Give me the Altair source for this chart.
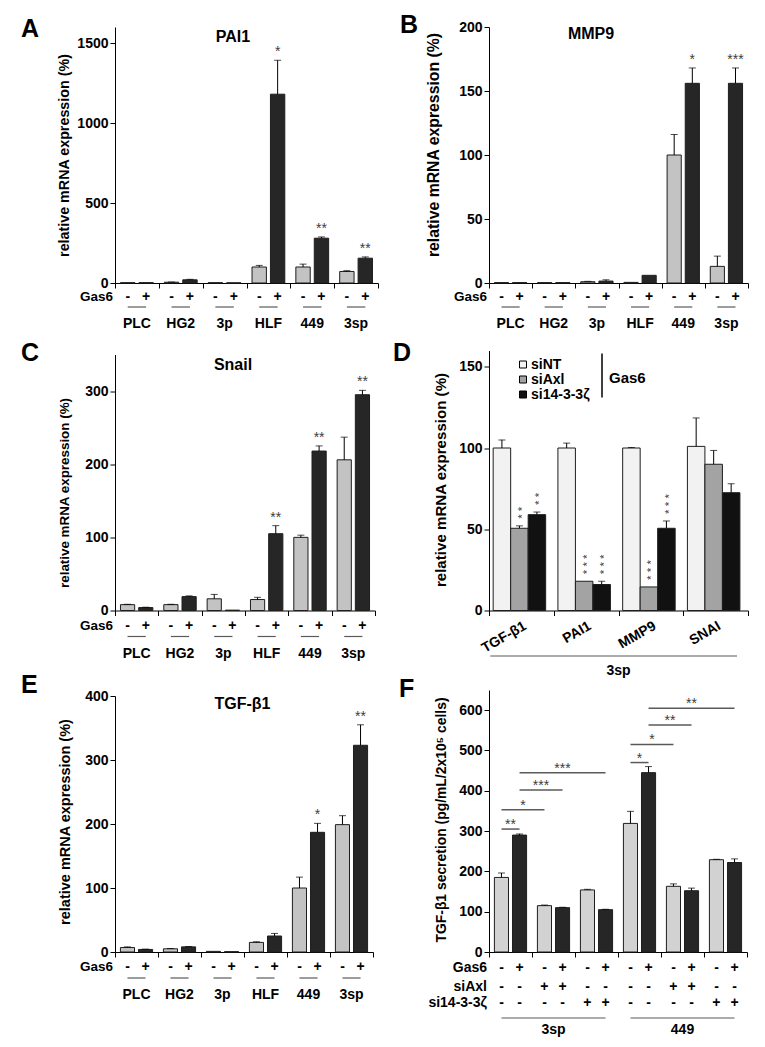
import altair as alt
import pandas as pd

FONT = "Liberation Sans"
LIGHT = "#c3c3c3"
LIGHT_F = "#d2d2d2"
DARK = "#262626"
EDGE = "#1e1e1e"
STAR = "#3c3c3c"
LINE = "#5a5a5a"

# ---------------- data ----------------
cells = ["PLC", "HG2", "3p", "HLF", "449", "3sp"]
gas6 = ["-", "+"]

# A - PAI1
pai1_minus = [2, 5, 2, 100, 100, 72]
pai1_minus_err = [0, 1, 0, 10, 18, 5]
pai1_plus = [2, 20, 1, 1180, 280, 155]
pai1_plus_err = [0, 3, 0, 212, 8, 8]
pai1_stars = ["", "", "", "*", "**", "**"]

# B - MMP9
mmp9_minus = [0.3, 0.3, 1, 0.5, 100, 13]
mmp9_minus_err = [0, 0, 0.3, 0, 16, 8]
mmp9_plus = [0.3, 0.3, 1.5, 6, 156, 156]
mmp9_plus_err = [0, 0, 1, 0, 12, 12]
mmp9_stars = ["", "", "", "", "*", "***"]

# C - Snail
snail_minus = [8, 8, 16, 15, 100, 206]
snail_minus_err = [0.5, 0.5, 6, 3, 3, 31]
snail_plus = [4, 19, 0.5, 105, 218, 295]
snail_plus_err = [0.5, 1, 0, 11, 7, 6]
snail_stars = ["", "", "", "**", "**", "**"]

# E - TGF-b1
tgfb_minus = [7, 5, 1, 15, 100, 199]
tgfb_minus_err = [1, 0.5, 0, 1, 17, 14]
tgfb_plus = [4, 8, 0.5, 25, 187, 323]
tgfb_plus_err = [0.5, 0.5, 0, 4, 14, 32]
tgfb_stars = ["", "", "", "", "*", "**"]

# D - knockdown in 3sp
genes = ["TGF-β1", "PAI1", "MMP9", "SNAI"]
sirnas = ["siNT", "siAxl", "si14-3-3ζ"]
d_sint = [100, 100, 100, 101]
d_sint_err = [5, 3, 0.3, 17.5]
d_siaxl = [50.6, 18, 14.5, 90]
d_siaxl_err = [1.5, 0, 0, 8.5]
d_si14 = [59, 16, 50.6, 72.5]
d_si14_err = [1.6, 2, 4.5, 5.5]
d_siaxl_stars = ["**", "***", "***", ""]
d_si14_stars = ["**", "***", "***", ""]

# F - TGF-b1 secretion
f_groups = ["3sp ctrl", "3sp siAxl", "3sp si14-3-3ζ", "449 ctrl", "449 siAxl", "449 si14-3-3ζ"]
f_minus = [185, 115, 154, 319, 163, 229]
f_minus_err = [11, 1.5, 1.5, 30, 6, 1]
f_plus = [290, 110, 105, 445, 152, 222]
f_plus_err = [3, 1, 1, 15, 6.5, 9]
f_siaxl = ["-", "+", "-", "-", "+", "-"]
f_si14 = ["-", "-", "+", "-", "-", "+"]
f_cell_lines = ["3sp", "449"]
br_start_group = [0, 0, 0, 0, 3, 3, 3, 3]
br_start_cond = ["-", "-", "+", "+", "-", "-", "+", "+"]
br_end_group = [0, 1, 1, 2, 3, 4, 4, 5]
br_end_cond = ["+", "-", "+", "+", "+", "-", "+", "+"]
br_height = [305, 353, 402, 445, 470, 515, 563, 605]
br_stars = ["**", "*", "***", "***", "*", "*", "**", "**"]

# ---------------- geometry of the paired bars ----------------
PI, PO = 0.22, 0.30
_step = 1.0 / (2 - PI + 2 * PO)
BC = {"-": PO * _step + (1 - PI) * _step / 2}
BC["+"] = 1 - BC["-"]


def one(text):
    return pd.DataFrame({"t": [text]})


def label(text, x, y, size, weight="bold", align="center", baseline="middle", color="black"):
    return alt.Chart(one(text)).mark_text(
        font=FONT, fontSize=size, fontWeight=weight, align=align,
        baseline=baseline, color=color
    ).encode(x=alt.value(x), y=alt.value(y), text="t:N")


def y_axis(values, title, tx, ty, tsize):
    return alt.Axis(
        values=values, format="d", title=title, titleX=tx, titleY=ty, titleFontSize=tsize,
        titleFont=FONT, titleFontWeight="bold", titleColor="black", titleAngle=270,
        titleAlign="center", titleBaseline="middle", labelFont=FONT, labelFontSize=14,
        labelFontWeight="bold", labelColor="black", labelPadding=2, tickSize=5,
        tickColor="black", domainColor="black", grid=False,
    )


def x_axis(**kw):
    d = dict(title=None, labels=False, tickBand="extent", tickSize=5,
             tickColor="black", domainColor="black", grid=False)
    d.update(kw)
    return alt.Axis(**d)


def gas6_panel(minus, minus_err, plus, plus_err, stars, title, letter, ydom, yticks,
               yrange, w, xr, h, tpos, lpos, ytitle, offs):
    rows = []
    for i, c in enumerate(cells):
        rows.append({"cell": c, "gas6": "-", "value": minus[i], "err": minus_err[i], "star": ""})
        rows.append({"cell": c, "gas6": "+", "value": plus[i], "err": plus_err[i], "star": stars[i]})
    df = pd.DataFrame(rows)
    xs = alt.Scale(domain=cells, range=[0, xr], paddingInner=0, paddingOuter=0)
    osc = alt.Scale(domain=gas6, paddingInner=PI, paddingOuter=PO)
    ys = alt.Scale(domain=ydom, range=yrange, nice=False, zero=False)
    xa = x_axis()
    ya = y_axis(yticks, "relative mRNA expression (%)", *ytitle)

    def X(field="cell", **kw):
        return alt.X(f"{field}:N", scale=xs, axis=xa, **kw)

    def Y(field):
        return alt.Y(f"{field}:Q", scale=ys, axis=ya)

    XO = alt.XOffset("gas6:N", scale=osc)
    base = alt.Chart(df).transform_calculate(top="datum.value + datum.err")
    bars = base.mark_bar(stroke=EDGE, strokeWidth=1).encode(
        x=X(), xOffset=XO, y=Y("value"),
        color=alt.Color("gas6:N", scale=alt.Scale(domain=gas6, range=[LIGHT, DARK]), legend=None),
    )
    errs = base.transform_filter("datum.err > 0").mark_rule(color="black", strokeWidth=1).encode(
        x=X(), xOffset=XO, y=Y("value"), y2=alt.Y2(field="top"))
    caps = base.transform_filter("datum.err > 0").mark_tick(
        color="black", thickness=1, size=7, orient="horizontal").encode(
        x=X(), xOffset=XO, y=Y("top"))
    star = base.transform_filter("datum.star != ''").mark_text(
        font=FONT, fontSize=14, color=STAR, baseline="alphabetic", dy=-4).encode(
        x=X(), xOffset=XO, y=Y("top"), text="star:N")
    signs = alt.Chart(df).mark_text(
        font=FONT, fontSize=14, fontWeight="bold", color="black", baseline="middle").encode(
        x=X(), xOffset=XO, y=alt.value(h + offs[0]), text="gas6:N")
    cdf = pd.DataFrame({"cell": cells})
    under = alt.Chart(cdf).mark_rule(color=LINE, strokeWidth=1.2).encode(
        x=X(bandPosition=BC["-"]),
        x2=alt.X2(field="cell", bandPosition=BC["+"]),
        y=alt.value(h + offs[1]))
    names = alt.Chart(cdf).mark_text(
        font=FONT, fontSize=14, fontWeight="bold", color="black", baseline="middle").encode(
        x=X(), y=alt.value(h + offs[2]), text="cell:N")
    layers = [bars, errs, caps, star, signs, under, names,
              label("Gas6", -2, h + offs[0], 13.5, align="right"),
              label(title, tpos[0], tpos[1], 16),
              label(letter, lpos[0], lpos[1], 25, align="left")]
    return alt.layer(*layers).properties(width=w, height=h)


def panel_d(w, h):
    vals = {"siNT": (d_sint, d_sint_err, [""] * 4),
            "siAxl": (d_siaxl, d_siaxl_err, d_siaxl_stars),
            "si14-3-3ζ": (d_si14, d_si14_err, d_si14_stars)}
    rows = []
    for i, g in enumerate(genes):
        for s in sirnas:
            v, e, st = vals[s]
            rows.append({"gene": g, "sirna": s, "value": v[i], "err": e[i],
                         "star": " ".join(st[i])})
    df = pd.DataFrame(rows)
    xs = alt.Scale(domain=genes, range=[0, w], paddingInner=0, paddingOuter=0)
    osc = alt.Scale(domain=sirnas, paddingInner=0, paddingOuter=0.35, align=0.34)
    ys = alt.Scale(domain=[0, 160], range=[h, 0], nice=False, zero=False)
    xa = x_axis(labels=True, labelAngle=330, labelFont=FONT, labelFontSize=14,
                labelFontWeight="bold", labelColor="black", labelPadding=3)
    ya = y_axis([0, 50, 100, 150], "relative mRNA expression (%)", -49, 129, 15.1)

    def X(field="gene", **kw):
        return alt.X(f"{field}:N", scale=xs, axis=xa, **kw)

    def Y(field):
        return alt.Y(f"{field}:Q", scale=ys, axis=ya)

    XO = alt.XOffset("sirna:N", scale=osc)
    base = alt.Chart(df).transform_calculate(top="datum.value + datum.err")
    bars = base.mark_bar(stroke=EDGE, strokeWidth=1).encode(
        x=X(), xOffset=XO, y=Y("value"),
        color=alt.Color("sirna:N", scale=alt.Scale(domain=sirnas, range=["#f2f2f2", "#a3a3a3", "#111111"]),
                        legend=alt.Legend(title=None, orient="none", legendX=27, legendY=7,
                                          symbolType="square", symbolSize=49,
                                          symbolStrokeColor="black", symbolStrokeWidth=1,
                                          labelFont=FONT, labelFontSize=14, labelFontWeight="bold",
                                          labelColor="black", labelOffset=1, rowPadding=1, padding=0)),
    )
    errs = base.transform_filter("datum.err > 0").mark_rule(color="black", strokeWidth=1).encode(
        x=X(), xOffset=XO, y=Y("value"), y2=alt.Y2(field="top"))
    caps = base.transform_filter("datum.err > 0").mark_tick(
        color="black", thickness=1, size=7, orient="horizontal").encode(
        x=X(), xOffset=XO, y=Y("top"))
    star = base.transform_filter("datum.star != ''").mark_text(
        font=FONT, fontSize=11.5, color=STAR, angle=270, align="left", baseline="middle",
        dx=7, dy=3.5).encode(
        x=X(), xOffset=XO, y=Y("top"), text="star:N")
    ldf = pd.DataFrame({"gene": [genes[0]], "b": [genes[-1]], "m": [genes[2]], "t": ["3sp"]})
    line = alt.Chart(ldf).mark_rule(color=LINE, strokeWidth=1.2).encode(
        x=X(bandPosition=0.02),
        x2=alt.X2(field="b", bandPosition=0.83), y=alt.value(h + 45.5))
    ltxt = alt.Chart(ldf).mark_text(font=FONT, fontSize=14, fontWeight="bold", baseline="middle").encode(
        x=X("m", bandPosition=0.0), y=alt.value(h + 60), text="t:N")
    vbar = alt.Chart(one("")).mark_rule(color="black", strokeWidth=1.5).encode(
        x=alt.value(113), y=alt.value(3), y2=alt.value(47))
    layers = [bars, errs, caps, star, line, ltxt, vbar,
              label("Gas6", 120, 27, 15, align="left"),
              label("D", -96, 2, 25, align="left")]
    return alt.layer(*layers).properties(width=w, height=h)


def panel_f(w, h):
    rows = []
    for i, g in enumerate(f_groups):
        for cond, v, e in (("-", f_minus[i], f_minus_err[i]), ("+", f_plus[i], f_plus_err[i])):
            rows.append({"grp": g, "gas6": cond, "value": v, "err": e,
                         "siaxl": f_siaxl[i], "si14": f_si14[i]})
    df = pd.DataFrame(rows)
    xs = alt.Scale(domain=f_groups, range=[0, w], paddingInner=0, paddingOuter=0)
    osc = alt.Scale(domain=gas6, paddingInner=PI, paddingOuter=PO)
    ys = alt.Scale(domain=[0, 650], range=[h, 12], nice=False, zero=False)
    xa = x_axis()
    ya = y_axis([0, 100, 200, 300, 400, 500, 600],
                "TGF-β1 secretion (pg/mL/2x10⁵ cells)", -48, 141.5, 13.9)

    def X(field="grp", **kw):
        return alt.X(f"{field}:N", scale=xs, axis=xa, **kw)

    def Y(field):
        return alt.Y(f"{field}:Q", scale=ys, axis=ya)

    XO = alt.XOffset("gas6:N", scale=osc)
    base = alt.Chart(df).transform_calculate(top="datum.value + datum.err")
    bars = base.mark_bar(stroke=EDGE, strokeWidth=1).encode(
        x=X(), xOffset=XO, y=Y("value"),
        color=alt.Color("gas6:N", scale=alt.Scale(domain=gas6, range=[LIGHT_F, DARK]), legend=None),
    )
    errs = base.transform_filter("datum.err > 0").mark_rule(color="black", strokeWidth=1).encode(
        x=X(), xOffset=XO, y=Y("value"), y2=alt.Y2(field="top"))
    caps = base.transform_filter("datum.err > 0").mark_tick(
        color="black", thickness=1, size=7, orient="horizontal").encode(
        x=X(), xOffset=XO, y=Y("top"))
    layers = [bars, errs, caps]
    for field, dy in (("gas6", 16), ("siaxl", 34.5), ("si14", 51)):
        layers.append(alt.Chart(df).mark_text(
            font=FONT, fontSize=14, fontWeight="bold", color="black", baseline="middle").encode(
            x=X(), xOffset=XO, y=alt.value(h + dy), text=f"{field}:N"))
    for txt, dy in (("Gas6", 16), ("siAxl", 34.5), ("si14-3-3ζ", 51)):
        layers.append(label(txt, -2, h + dy, 14, align="right"))
    # cell-line lines under the table
    for k, name in enumerate(f_cell_lines):
        ldf = pd.DataFrame({"grp": [f_groups[3 * k]], "b": [f_groups[3 * k + 2]],
                            "m": [f_groups[3 * k + 1]], "t": [name]})
        layers.append(alt.Chart(ldf).mark_rule(color=LINE, strokeWidth=1.2).encode(
            x=X(bandPosition=BC["-"]),
            x2=alt.X2(field="b", bandPosition=BC["+"]), y=alt.value(h + 66)))
        layers.append(alt.Chart(ldf).mark_text(
            font=FONT, fontSize=14, fontWeight="bold", baseline="middle").encode(
            x=X("m"), y=alt.value(h + 78), text="t:N"))
    # significance brackets
    for i in range(len(br_height)):
        sp = br_start_group[i] + BC[br_start_cond[i]]
        ep = br_end_group[i] + BC[br_end_cond[i]]
        mp = (sp + ep) / 2
        mg = int(mp)
        bdf = pd.DataFrame({"grp": [f_groups[br_start_group[i]]], "b": [f_groups[br_end_group[i]]],
                            "m": [f_groups[mg]], "value": [br_height[i]], "s": [br_stars[i]]})
        layers.append(alt.Chart(bdf).mark_rule(color=LINE, strokeWidth=1.5).encode(
            x=X(bandPosition=BC[br_start_cond[i]]),
            x2=alt.X2(field="b", bandPosition=BC[br_end_cond[i]]),
            y=Y("value")))
        layers.append(alt.Chart(bdf).mark_text(
            font=FONT, fontSize=14, color=STAR, baseline="alphabetic").encode(
            x=X("m", bandPosition=mp - mg), y=Y("value"), text="s:N"))
    layers.append(label("F", -90, 11, 25, align="left"))
    return alt.layer(*layers).properties(width=w, height=h)


A = gas6_panel(pai1_minus, pai1_minus_err, pai1_plus, pai1_plus_err, pai1_stars, "PAI1", "A",
               [0, 1600], [0, 500, 1000, 1500], [256, 0], 263, 263, 256,
               (118, 10), (-94, 2), (-51, 128, 14.3), (14, 24, 41))
B = gas6_panel(mmp9_minus, mmp9_minus_err, mmp9_plus, mmp9_plus_err, mmp9_stars, "MMP9", "B",
               [0, 200], [0, 50, 100, 150, 200], [256, 0], 259, 259, 256,
               (102, 6.5), (-89, -2.5), (-56, 117.5, 15.8), (14, 24, 41))
C = gas6_panel(snail_minus, snail_minus_err, snail_plus, snail_plus_err, snail_stars, "Snail", "C",
               [0, 350], [0, 100, 200, 300], [260, 4], 263, 260, 260,
               (118, 14.5), (-94, 2), (-51, 142, 13.4), (15, 26, 43))
D = panel_d(259, 260)
E = gas6_panel(tgfb_minus, tgfb_minus_err, tgfb_plus, tgfb_plus_err, tgfb_stars, "TGF-β1", "E",
               [0, 400], [0, 100, 200, 300, 400], [274, 18], 263, 258, 274,
               (127.5, 26), (-94, 7), (-50, 143.5, 14.5), (15, 26, 43))
F = panel_f(258, 274)

chart = alt.concat(
    A, B, C, D, E, F, columns=2,
    spacing={"row": 67.5, "column": 111}, bounds="flush", align="each",
).resolve_scale(
    color="independent", xOffset="independent"
).properties(
    padding={"left": 13, "top": 4, "right": 5, "bottom": 5}
).configure(font=FONT).configure_view(stroke=None)

chart.save("out.html", embed_options={"renderer": "svg", "actions": False})
